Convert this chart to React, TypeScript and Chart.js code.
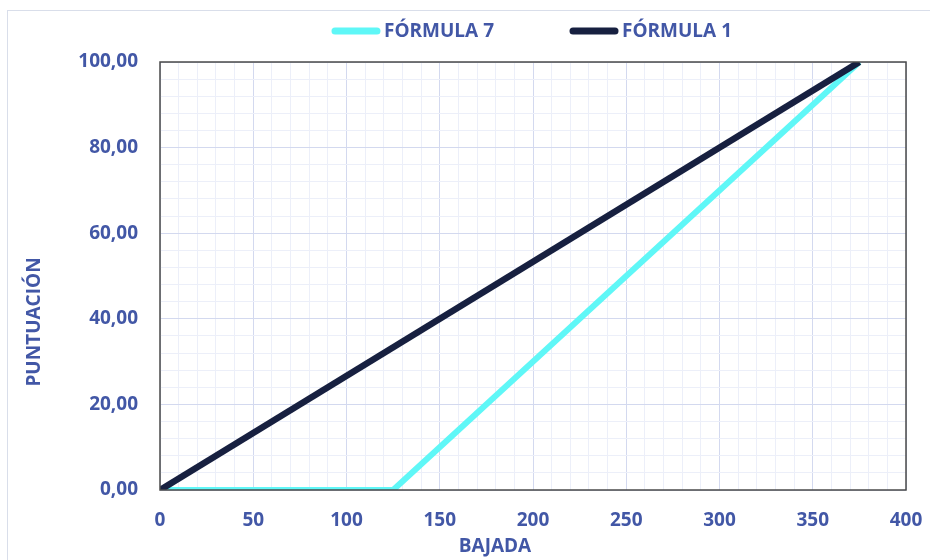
import React, { useEffect, useRef } from "react";
import { Chart, registerables } from "chart.js";

Chart.register(...registerables);

// Series data
const FORMULA_7_LABEL = "FÓRMULA 7";
const FORMULA_7_X = [0, 125, 375];
const FORMULA_7_Y = [0, 0, 100];

const FORMULA_1_LABEL = "FÓRMULA 1";
const FORMULA_1_X = [0, 375];
const FORMULA_1_Y = [0, 100];

// Axes
const X_TITLE = "BAJADA";
const Y_TITLE = "PUNTUACIÓN";
const X_MIN = 0;
const X_MAX = 400;
const X_MAJOR = 50;
const X_MINOR = 10;
const Y_MIN = 0;
const Y_MAX = 100;
const Y_MAJOR = 20;
const Y_MINOR = 4;

const TEXT_COLOR = "#4257a6";
const FONT_FAMILY = "'Open Sans', Lato, sans-serif";
const FONT_SIZE = 19;
const CYAN = "#5ff7f7";
const NAVY = "#172040";

const toPoints = (xs: number[], ys: number[]) => xs.map((x, i) => ({ x, y: ys[i] }));

const isMajor = (v: number, step: number) => Math.abs(v / step - Math.round(v / step)) < 1e-6;

// Outer frame, plot border and axis titles
const framePlugin = {
  id: "frame",
  beforeDraw(chart: any) {
    const { ctx } = chart;
    ctx.save();
    ctx.fillStyle = "#ffffff";
    ctx.fillRect(0, 0, chart.width, chart.height);
    ctx.strokeStyle = "#d9deea";
    ctx.lineWidth = 1;
    ctx.strokeRect(7.5, 10.5, chart.width + 10, chart.height + 10);
    ctx.restore();
  },
  afterDatasetsDraw(chart: any) {
    const { ctx, chartArea } = chart;
    ctx.save();
    ctx.strokeStyle = "#4a4a4a";
    ctx.lineWidth = 1.5;
    ctx.strokeRect(chartArea.left, chartArea.top, chartArea.right - chartArea.left, chartArea.bottom - chartArea.top);
    ctx.restore();
  },
  afterDraw(chart: any) {
    const { ctx } = chart;
    ctx.save();
    ctx.font = `bold ${FONT_SIZE}px ${FONT_FAMILY}`;
    ctx.fillStyle = TEXT_COLOR;
    ctx.textAlign = "center";
    ctx.textBaseline = "middle";
    ctx.fillText(X_TITLE, 495, 547);
    ctx.translate(35, 322);
    ctx.rotate(-Math.PI / 2);
    ctx.fillText(Y_TITLE, 0, 0);
    ctx.restore();
  },
};

// Legend drawn along the top
const legendPlugin = {
  id: "topLegend",
  afterDraw(chart: any) {
    const { ctx } = chart;
    const sets = chart.data.datasets;
    const sample = 48;
    const gap = 4;
    const itemGap = 76;
    ctx.save();
    ctx.font = `bold ${FONT_SIZE}px ${FONT_FAMILY}`;
    const widths = sets.map((d: any) => sample + gap + ctx.measureText(d.label).width);
    const total = widths.reduce((a: number, b: number) => a + b, 0) + itemGap * (sets.length - 1);
    let x = 532 - total / 2;
    const y = 31;
    sets.forEach((d: any, i: number) => {
      ctx.strokeStyle = d.borderColor;
      ctx.lineWidth = 7;
      ctx.lineCap = "round";
      ctx.beginPath();
      ctx.moveTo(x + 3, y);
      ctx.lineTo(x + sample - 3, y);
      ctx.stroke();
      ctx.fillStyle = TEXT_COLOR;
      ctx.textBaseline = "middle";
      ctx.textAlign = "left";
      ctx.fillText(d.label, x + sample + gap, y + 1);
      x += widths[i] + itemGap;
    });
    ctx.restore();
  },
};

export default function App() {
  const canvasRef = useRef<HTMLCanvasElement | null>(null);

  useEffect(() => {
    if (!canvasRef.current) return;
    const tickFont = { family: FONT_FAMILY, size: FONT_SIZE, weight: "bold" as const };
    const chart = new Chart(canvasRef.current, {
      type: "scatter",
      data: {
        datasets: [
          {
            label: FORMULA_7_LABEL,
            data: toPoints(FORMULA_7_X, FORMULA_7_Y),
            showLine: true,
            borderColor: CYAN,
            backgroundColor: CYAN,
            borderWidth: 6,
            pointRadius: 0,
            tension: 0,
            order: 2,
          },
          {
            label: FORMULA_1_LABEL,
            data: toPoints(FORMULA_1_X, FORMULA_1_Y),
            showLine: true,
            borderColor: NAVY,
            backgroundColor: NAVY,
            borderWidth: 6.5,
            pointRadius: 0,
            tension: 0,
            order: 1,
          },
        ],
      },
      options: {
        animation: false,
        responsive: false,
        layout: { padding: { top: 62, right: 24, left: 12, bottom: 2 } },
        plugins: {
          legend: { display: false },
          tooltip: { enabled: false },
        },
        scales: {
          x: {
            type: "linear",
            min: X_MIN,
            max: X_MAX,
            afterFit(scale: any) {
              scale.height = 68;
              scale.paddingLeft = 0;
              scale.paddingRight = 0;
            },
            ticks: {
              stepSize: X_MINOR,
              autoSkip: false,
              maxRotation: 0,
              padding: 19,
              color: TEXT_COLOR,
              font: tickFont,
              callback: (v: any) => (isMajor(Number(v), X_MAJOR) ? String(v) : ""),
            },
            grid: {
              drawTicks: false,
              lineWidth: 1,
              color: (c: any) => (isMajor(c.tick.value, X_MAJOR) ? "#d3d9ef" : "#eceff9"),
            },
            border: { display: false },
          },
          y: {
            type: "linear",
            min: Y_MIN,
            max: Y_MAX,
            afterFit(scale: any) {
              scale.width = 148;
              scale.paddingTop = 0;
              scale.paddingBottom = 0;
            },
            ticks: {
              stepSize: Y_MINOR,
              autoSkip: false,
              padding: 22,
              color: TEXT_COLOR,
              font: tickFont,
              callback: (v: any) =>
                isMajor(Number(v), Y_MAJOR) ? Number(v).toFixed(2).replace(".", ",") : "",
            },
            grid: {
              drawTicks: false,
              lineWidth: 1,
              color: (c: any) => (isMajor(c.tick.value, Y_MAJOR) ? "#d3d9ef" : "#eceff9"),
            },
            border: { display: false },
          },
        },
      },
      plugins: [framePlugin, legendPlugin],
    });
    return () => chart.destroy();
  }, []);

  return (
    <div style={{ position: "absolute", left: 0, top: 0, width: 930, height: 560, background: "#fff" }}>
      <canvas ref={canvasRef} width={930} height={560} />
    </div>
  );
}
